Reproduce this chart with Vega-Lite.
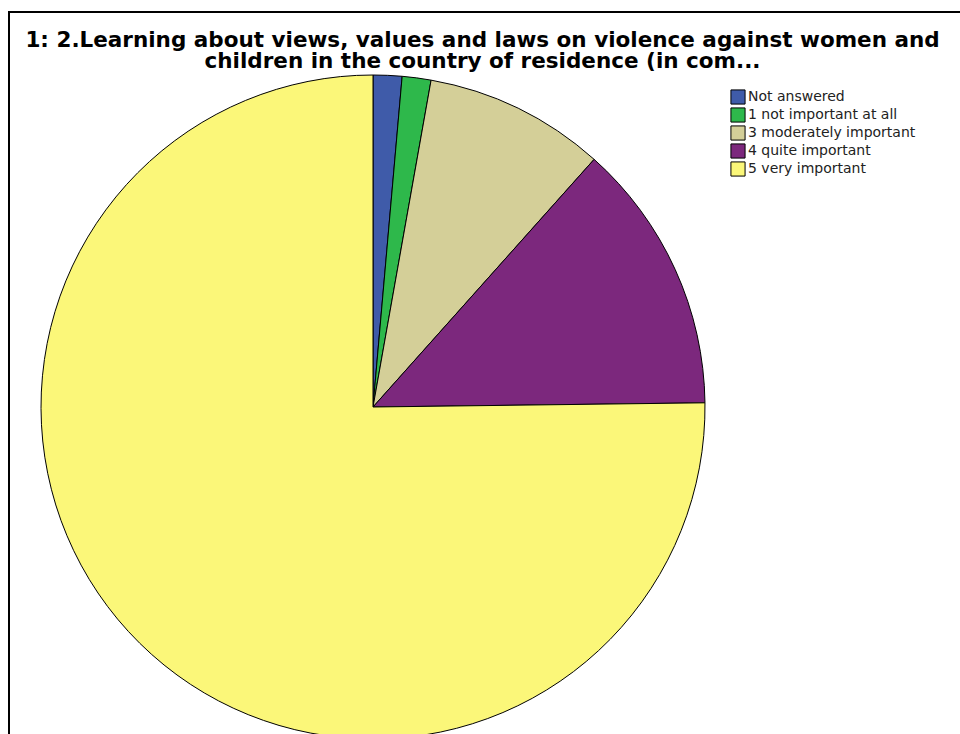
{
  "$schema": "https://vega.github.io/schema/vega-lite/v6.json",
  "width": 960,
  "height": 734,
  "autosize": {"type": "fit", "contains": "padding"},
  "padding": {"left": 9, "top": 12, "right": -4, "bottom": -4},
  "background": "white",
  "view": {"stroke": "black", "strokeWidth": 2},
  "title": {
    "text": ["1: 2.Learning about views, values and laws on violence against women and", "children in the country of residence (in com..."],
    "orient": "top",
    "anchor": "middle",
    "offset": -60,
    "dx": -4,
    "font": "DejaVu Sans",
    "fontSize": 21.5,
    "fontWeight": "bold",
    "color": "black",
    "lineHeight": 21
  },
  "data": {
    "values": [
      {"category": "Not answered", "k": 1, "percent": 1.4},
      {"category": "1 not important at all", "k": 2, "percent": 1.4},
      {"category": "3 moderately important", "k": 3, "percent": 8.8},
      {"category": "4 quite important", "k": 4, "percent": 13.2},
      {"category": "5 very important", "k": 5, "percent": 75.2}
    ]
  },
  "mark": {"type": "arc", "stroke": "black", "strokeWidth": 1, "outerRadius": 332, "x": 364, "y": 395},
  "encoding": {
    "theta": {"field": "percent", "type": "quantitative", "stack": true},
    "order": {"field": "k", "type": "quantitative"},
    "color": {
      "field": "category",
      "type": "nominal",
      "scale": {
        "domain": ["Not answered", "1 not important at all", "3 moderately important", "4 quite important", "5 very important"],
        "range": ["#3F5BA9", "#2EB84B", "#D4CF98", "#7C287D", "#FBF779"]
      },
      "legend": {
        "title": null,
        "orient": "none",
        "legendX": 721,
        "legendY": 77,
        "symbolType": "square",
        "symbolSize": 200,
        "symbolStrokeColor": "black",
        "symbolStrokeWidth": 1,
        "symbolOpacity": 1,
        "labelFont": "DejaVu Sans",
        "labelFontSize": 14,
        "labelColor": "#222",
        "labelOffset": 2,
        "labelLimit": 400,
        "rowPadding": -2
      }
    }
  }
}
